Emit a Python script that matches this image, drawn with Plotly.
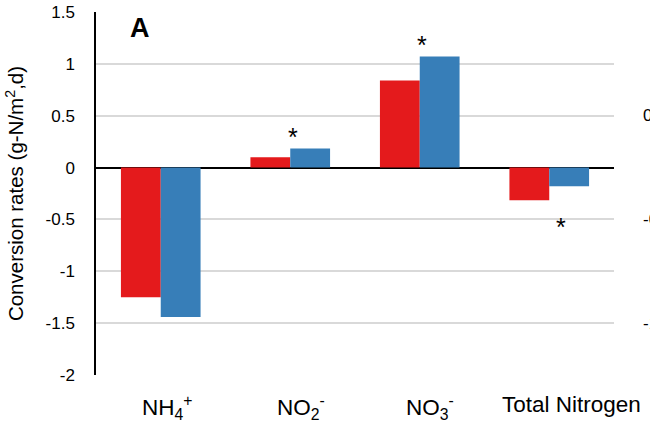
import plotly.graph_objects as go

categories = ["NH<sub>4</sub><sup>+</sup>", "NO<sub>2</sub><sup>-</sup>", "NO<sub>3</sub><sup>-</sup>", "Total Nitrogen"]
series_red = [-1.25, 0.10, 0.84, -0.315]
series_blue = [-1.44, 0.185, 1.07, -0.18]
star_cats = [1, 2, 3]
star_vals = [0.29, 1.18, -0.57]
star_shift = [3, 2, 12]
label_shift = [-21, -15, -16, -49]
yticks = [-2, -1.5, -1, -0.5, 0, 0.5, 1, 1.5]
yticklabels = ["-2", "-1.5", "-1", "-0.5", "0", "0.5", "1", "1.5"]

font = "Liberation Sans, Arial, sans-serif"

fig = go.Figure()
fig.add_trace(go.Bar(x=categories, y=series_red, marker=dict(color="#E41A1C", line=dict(width=0))))
fig.add_trace(go.Bar(x=categories, y=series_blue, marker=dict(color="#377EB8", line=dict(width=0))))

for c, v, s in zip(star_cats, star_vals, star_shift):
    fig.add_annotation(x=categories[c], y=v, xref="x", yref="y", text="*", showarrow=False,
                       xshift=s, font=dict(size=25, color="black", family=font))

# category labels (drawn as annotations to reproduce their offsets)
for cat, s in zip(categories, label_shift):
    fig.add_annotation(x=cat, y=0, xref="x", yref="paper", text=cat, showarrow=False,
                       xanchor="left", yanchor="top", xshift=s, yshift=-15,
                       font=dict(size=22.5, color="black", family=font))

fig.add_annotation(x=0.085, y=0.955, xref="paper", yref="paper", text="<b>A</b>", showarrow=False,
                   font=dict(size=27, color="black", family=font), xanchor="center", yanchor="middle")

# clipped labels of neighbouring panel
for v, t in [(0.5, "0.5"), (-0.5, "-0.5"), (-1.5, "-1.5")]:
    fig.add_annotation(x=1.053, y=v, xref="paper", yref="y", text=t, showarrow=False, xanchor="left",
                       font=dict(size=17, color="black", family=font))

fig.update_layout(
    width=650, height=423,
    margin=dict(l=96, r=36, t=12, b=48),
    paper_bgcolor="white", plot_bgcolor="white",
    barmode="group", bargap=0.385, bargroupgap=0,
    showlegend=False,
    font=dict(family=font, size=17, color="black"),
    xaxis=dict(range=[-0.5, 3.5], autorange=False, showgrid=False, showline=False, ticks="",
               showticklabels=False, automargin=False, zeroline=False),
    yaxis=dict(range=[-2, 1.5], tickvals=yticks, ticktext=yticklabels, showgrid=True, automargin=False,
               gridcolor="#D9D9D9", gridwidth=1.5, zeroline=True, zerolinecolor="black", zerolinewidth=1.5,
               showline=True, linecolor="black", linewidth=1.5, ticks="", ticklabelstandoff=16,
               tickfont=dict(size=17),
               title=dict(text="Conversion rates (g-N/m<sup>2</sup>,d)", font=dict(size=20.5), standoff=16)),
)

fig.write_html("out.html")
